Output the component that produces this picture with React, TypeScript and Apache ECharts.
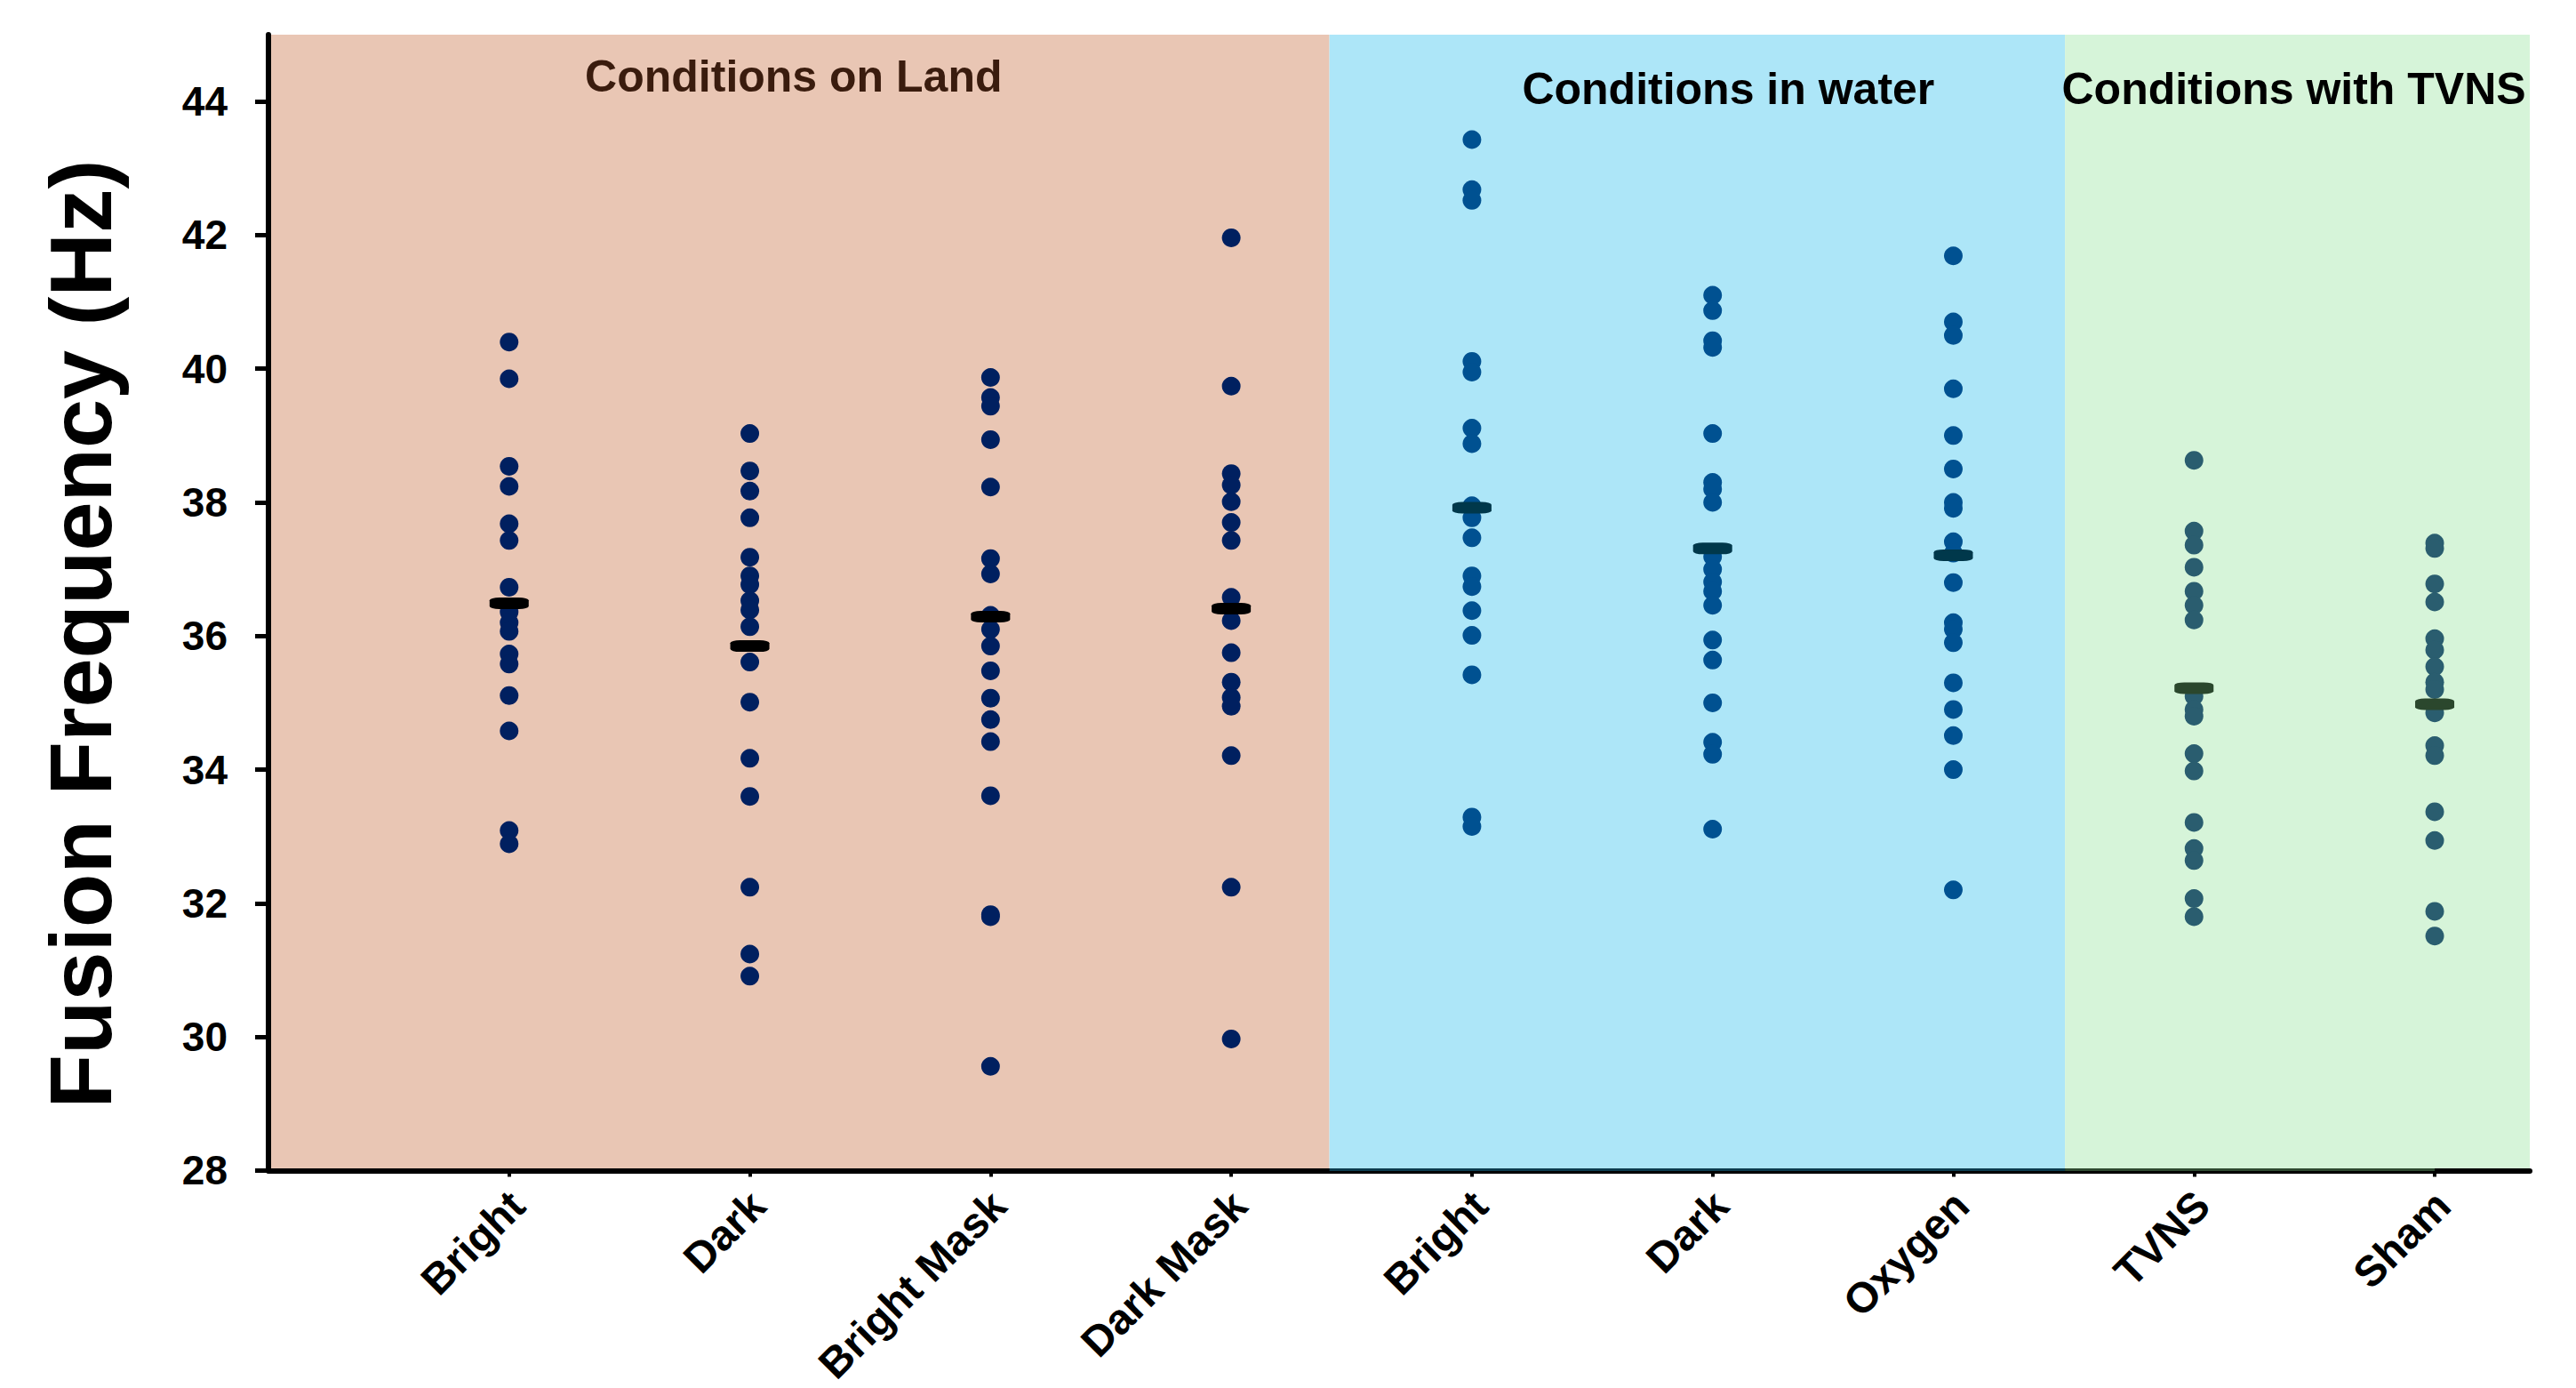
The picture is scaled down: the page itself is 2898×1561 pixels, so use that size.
import React, { useEffect, useRef } from "react";
import * as echarts from "echarts";

// ---------- data ----------
const categories = ["Bright", "Dark", "Bright Mask", "Dark Mask", "Bright", "Dark", "Oxygen", "TVNS", "Sham"];
const groupOfCategory = [0, 0, 0, 0, 1, 1, 1, 2, 2];

const landBright = [40.4, 39.85, 38.54, 38.24, 37.68, 37.43, 36.73, 36.36, 36.2, 36.07, 35.73, 35.58, 35.11, 34.58, 33.09, 32.89];
const landDark = [39.03, 38.47, 38.17, 37.77, 37.18, 36.9, 36.77, 36.53, 36.39, 36.14, 35.61, 35.01, 34.17, 33.6, 32.24, 31.24, 30.91];
const landBrightMask = [39.87, 39.57, 39.44, 38.94, 38.23, 37.16, 36.93, 36.31, 36.1, 35.85, 35.48, 35.07, 34.75, 34.42, 33.61, 31.83, 31.8, 29.56];
const landDarkMask = [41.96, 39.74, 38.43, 38.26, 38.01, 37.7, 37.43, 36.58, 36.23, 35.75, 35.31, 35.08, 34.95, 34.21, 32.24, 29.97];
const waterBright = [43.43, 42.68, 42.52, 40.11, 39.95, 39.11, 38.88, 37.95, 37.77, 37.47, 36.9, 36.74, 36.38, 36.01, 35.42, 33.29, 33.15];
const waterDark = [41.1, 40.87, 40.42, 40.32, 39.03, 38.3, 38.2, 38.0, 37.19, 37.0, 36.81, 36.67, 36.46, 35.94, 35.64, 35.0, 34.41, 34.23, 33.11];
const waterOxygen = [41.69, 40.7, 40.5, 39.7, 39.0, 38.5, 38.0, 37.91, 37.41, 37.24, 36.8, 36.2, 36.1, 35.9, 35.3, 34.9, 34.51, 34.0, 32.2];
const tvnsTVNS = [38.63, 37.57, 37.36, 37.03, 36.67, 36.46, 36.24, 35.1, 34.9, 34.8, 34.24, 33.98, 33.21, 32.82, 32.64, 32.07, 31.8];
const tvnsSham = [37.39, 37.31, 36.78, 36.51, 35.96, 35.79, 35.54, 35.31, 35.2, 34.85, 34.36, 34.21, 33.37, 32.94, 31.88, 31.51];

const columnValues = [landBright, landDark, landBrightMask, landDarkMask, waterBright, waterDark, waterOxygen, tvnsTVNS, tvnsSham];
const columnMeans = [36.49, 35.85, 36.29, 36.41, 37.92, 37.31, 37.21, 35.22, 34.98];

const panelNames = ["Conditions on Land", "Conditions in water", "Conditions with TVNS"];
const panelStart = [0, 4.408, 7.464];
const panelEnd = [4.408, 7.464, 9.395];
const panelFill = ["#e9c6b4", "#ade6f8", "#d6f4d9"];
const panelTitleColor = ["#3a1c0e", "#000000", "#000000"];
const panelTitleDistance = [22, 36, 36];
const panelTitleShift = [-6, 35, -4];

const dotColor = ["#002060", "#005191", "#2a5d6f"];
const meanColor = ["#000000", "#00384b", "#2b472d"];

const accentStart = [4.408, 7.464];
const accentEnd = [7.464, 9];
const accentColor = ["#0c3c4e", "#2f4a31"];

const yMin = 28;
const yMax = 45;
const yTicks = [28, 30, 32, 34, 36, 38, 40, 42, 44];
const xMin = 0;
const xMax = 9.395;
const xTicks = [1, 2, 3, 4, 5, 6, 7, 8, 9];

const FONT = "'Liberation Sans', Arial, Helvetica, sans-serif";

export default function App() {
  const ref = useRef<HTMLDivElement>(null);

  useEffect(() => {
    document.body.style.margin = "0";
    const el = ref.current!;
    const chart = echarts.init(el, undefined, { renderer: "svg" });

    const dotSeries = [0, 1, 2].map((g) => ({
      type: "scatter",
      name: panelNames[g],
      z: 2,
      silent: true,
      symbol: "circle",
      symbolSize: 21,
      itemStyle: { color: dotColor[g], opacity: 1 },
      data: columnValues.flatMap((vals, ci) =>
        groupOfCategory[ci] === g ? vals.map((v) => [ci + 1, v]) : []
      ),
    }));

    const panelSeries = {
      type: "scatter",
      name: "panels",
      silent: true,
      data: [],
      z: 1,
      markArea: {
        silent: true,
        z: 1,
        data: panelNames.map((name, i) => [
          {
            name,
            xAxis: panelStart[i],
            yAxis: yMin,
            itemStyle: { color: panelFill[i], opacity: 1 },
            label: {
              show: true,
              position: "insideTop",
              distance: panelTitleDistance[i],
              offset: [panelTitleShift[i], 0],
              color: panelTitleColor[i],
              fontSize: 50,
              fontWeight: "bold",
              fontFamily: FONT,
            },
          },
          { xAxis: panelEnd[i], yAxis: yMax },
        ]),
      },
      markLine: {
        silent: true,
        symbol: ["none", "none"],
        z: 5,
        label: { show: false },
        data: accentStart.map((s, i) => [
          { coord: [s, yMin + 0.022], lineStyle: { color: accentColor[i], width: 3, type: "solid" } },
          { coord: [accentEnd[i], yMin + 0.022] },
        ]),
      },
    };

    const meanSeries = {
      type: "scatter",
      name: "means",
      z: 6,
      silent: true,
      symbol: "roundRect",
      symbolSize: [44, 13],
      data: columnMeans.map((m, ci) => ({
        value: [ci + 1, m],
        itemStyle: { color: meanColor[groupOfCategory[ci]], opacity: 1 },
      })),
    };

    chart.setOption({
      animation: false,
      backgroundColor: "#ffffff",
      grid: { left: 302, right: 52, top: 39, bottom: 241, containLabel: false },
      xAxis: {
        type: "value",
        min: xMin,
        max: xMax,
        z: 3,
        splitLine: { show: false },
        axisLine: { show: true, onZero: false, lineStyle: { color: "#000", width: 6 } },
        axisTick: { show: true, customValues: xTicks, length: 7, lineStyle: { color: "#000", width: 4 } },
        axisLabel: {
          show: true,
          customValues: xTicks,
          formatter: (v: number) => categories[Math.round(v) - 1] ?? "",
          rotate: 45,
          margin: 22,
          verticalAlign: "top",
          lineHeight: 26,
          color: "#000",
          fontSize: 48,
          fontWeight: "bold",
          fontFamily: FONT,
        },
      },
      yAxis: {
        type: "value",
        min: yMin,
        max: yMax,
        z: 3,
        splitLine: { show: false },
        axisLine: { show: true, onZero: false, lineStyle: { color: "#000", width: 6 } },
        axisTick: { show: true, customValues: yTicks, length: 15, lineStyle: { color: "#000", width: 5 } },
        axisLabel: {
          show: true,
          customValues: yTicks,
          margin: 46,
          color: "#000",
          fontSize: 46,
          fontWeight: "bold",
          fontFamily: FONT,
        },
      },
      graphic: [
        {
          type: "text",
          x: 90,
          y: 713,
          rotation: Math.PI / 2,
          silent: true,
          style: {
            text: "Fusion Frequency (Hz)",
            fill: "#000",
            font: `bold 99px ${FONT}`,
            align: "center",
            verticalAlign: "middle",
          },
        },
      ],
      series: [panelSeries, ...dotSeries, meanSeries],
    });

    const onResize = () => chart.resize();
    window.addEventListener("resize", onResize);
    return () => {
      window.removeEventListener("resize", onResize);
      chart.dispose();
    };
  }, []);

  return (
    <div
      ref={ref}
      style={{ position: "fixed", left: 0, top: 0, width: "100vw", height: "100vh", background: "#fff" }}
    />
  );
}
